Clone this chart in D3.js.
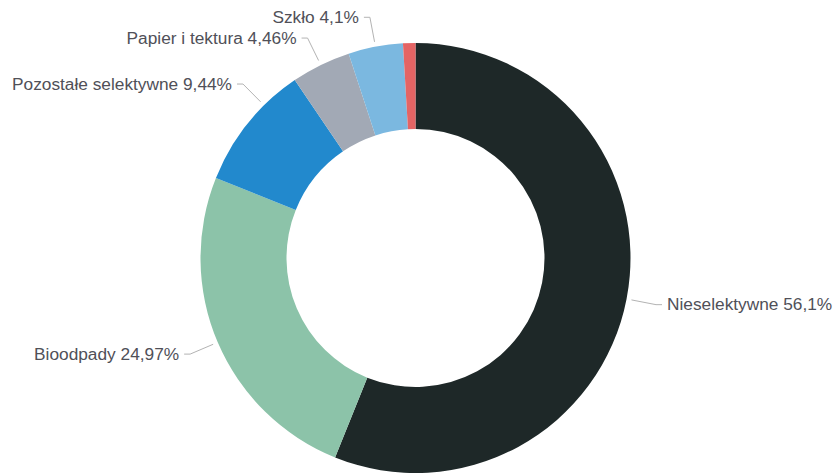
<!DOCTYPE html>
<html>
<head>
<meta charset="utf-8">
<script src="https://cdn.jsdelivr.net/npm/d3@7"></script>
<style>
  html, body { margin: 0; padding: 0; background: #fff; }
  svg { display: block; }
  .lbl { font-family: "Liberation Sans", Arial, sans-serif; font-size: 17.3px; fill: #505058; }
</style>
</head>
<body>
<svg id="chart" width="837" height="473"></svg>
<script>
"use strict";

// Waste streams, clockwise from 12 o'clock
const categories = ["Nieselektywne", "Bioodpady", "Pozostałe selektywne", "Papier i tektura", "Szkło", "Inne"];
const shares = [56.1, 24.97, 9.44, 4.46, 4.1, 0.93];
const labels = ["Nieselektywne 56,1%", "Bioodpady 24,97%", "Pozostałe selektywne 9,44%", "Papier i tektura 4,46%", "Szkło 4,1%", null];
const colors = ["#1e2828", "#8cc3a9", "#2289cd", "#a2a9b5", "#7bb8e0", "#e46464"];

const width = 837, height = 473;
const cx = 415.5, cy = 258;
const outerR = 215, innerR = 129;
const labelR = outerR + 30, touchR = outerR + 5;
const padLeft = 12, padRight = 1, textGap = 11;

const svg = d3.select("#chart");
const g = svg.append("g").attr("transform", `translate(${cx},${cy})`);

const data = categories.map((c, i) => ({ name: c, value: shares[i], label: labels[i], color: colors[i] }));

const pie = d3.pie().value(d => d.value).sort(null);
const arcs = pie(data);

const arc = d3.arc().innerRadius(innerR).outerRadius(outerR);

g.selectAll("path.slice")
  .data(arcs)
  .join("path")
  .attr("class", "slice")
  .attr("d", arc)
  .attr("fill", d => d.data.color);

const natural = d3.arc().innerRadius(labelR).outerRadius(labelR);
const labelled = arcs.filter(d => d.data.label);

// place text first so we can measure it
const texts = g.selectAll("text.lbl")
  .data(labelled)
  .join("text")
  .attr("class", "lbl")
  .attr("dy", "0.33em")
  .text(d => d.data.label);

texts.each(function (d) {
  const mid = (d.startAngle + d.endAngle) / 2;
  const side = Math.sin(mid) >= 0 ? 1 : -1;
  let [nx, ny] = natural.centroid(d);
  const w = this.getComputedTextLength();
  // slide the label along the label circle if it would run off the side
  const limit = side > 0 ? (width - cx) - padRight - w - textGap : -(cx - padLeft - w - textGap);
  if ((side > 0 && nx > limit) || (side < 0 && nx < limit)) {
    nx = limit;
    const dy = Math.sqrt(Math.max(0, labelR * labelR - nx * nx));
    ny = ny < 0 ? -dy : dy;
  }
  const ang = Math.atan2(ny, nx);
  d.lab = { side, nx, ny, tx: Math.cos(ang) * touchR, ty: Math.sin(ang) * touchR };
  d3.select(this)
    .attr("x", nx + side * textGap)
    .attr("y", ny)
    .attr("text-anchor", side > 0 ? "start" : "end");
});

g.selectAll("path.conn")
  .data(labelled)
  .join("path")
  .attr("class", "conn")
  .attr("fill", "none")
  .attr("stroke", "#b3b3b3")
  .attr("stroke-width", 1)
  .attr("d", d => {
    const l = d.lab;
    return `M${l.tx},${l.ty}L${l.nx},${l.ny}L${l.nx + l.side * 6},${l.ny}`;
  });
</script>
</body>
</html>
